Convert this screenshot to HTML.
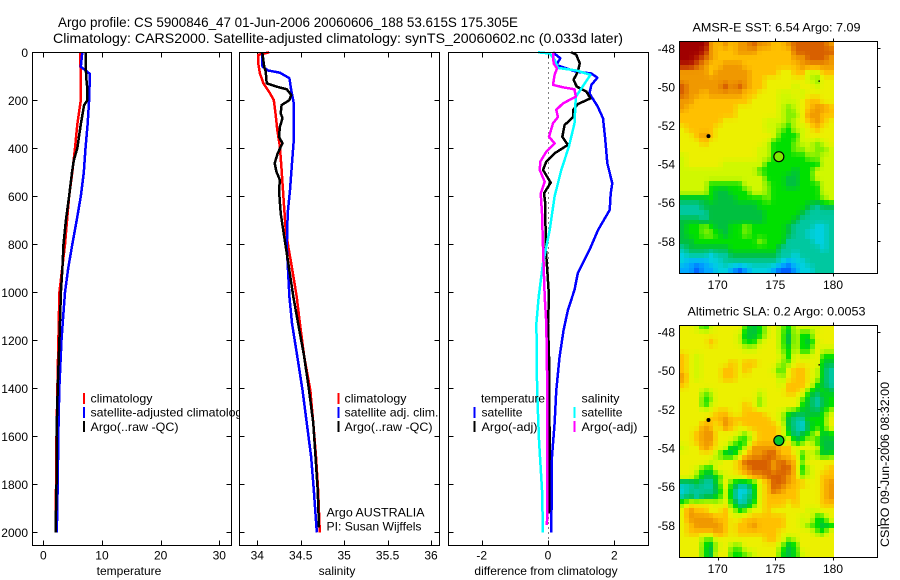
<!DOCTYPE html>
<html lang="en">
<head>
<meta charset="utf-8">
<title>Argo profile CS 5900846_47</title>
<style>
html,body{margin:0;padding:0;background:#fff;width:900px;height:580px;overflow:hidden}
svg{display:block}
text{font-family:"Liberation Sans",sans-serif;font-size:12px;fill:#000}
.title{font-size:14px}
</style>
</head>
<body>
<svg id="chart" xmlns="http://www.w3.org/2000/svg" width="900" height="580" viewBox="0 0 900 580">
  <rect x="0" y="0" width="900" height="580" fill="#fff"/>
  <text class="title" x="58" y="27" textLength="460" lengthAdjust="spacingAndGlyphs">Argo profile: CS 5900846_47 01-Jun-2006 20060606_188 53.615S 175.305E</text>
  <text class="title" x="53" y="43" textLength="570" lengthAdjust="spacingAndGlyphs">Climatology: CARS2000. Satellite-adjusted climatology: synTS_20060602.nc (0.033d later)</text>

  <g id="panel-t"></g>
  <g>
    <rect x="83" y="393" width="2" height="11" fill="#f00"/>
    <rect x="83" y="407" width="2" height="11" fill="#00f"/>
    <rect x="83" y="421" width="2" height="11" fill="#000"/>
    <text x="90.5" y="402.5" textLength="62" lengthAdjust="spacingAndGlyphs">climatology</text>
    <text x="90.5" y="416.5" textLength="158" lengthAdjust="spacingAndGlyphs">satellite-adjusted climatology</text>
    <text x="90.5" y="431" textLength="88" lengthAdjust="spacingAndGlyphs">Argo(..raw -QC)</text>
  </g>

  <g id="panel-s"></g>
  <g>
    <rect x="337.5" y="393" width="2" height="11" fill="#f00"/>
    <rect x="337.5" y="407" width="2" height="11" fill="#00f"/>
    <rect x="337.5" y="421" width="2" height="11" fill="#000"/>
    <text x="344.5" y="402.5" textLength="62" lengthAdjust="spacingAndGlyphs">climatology</text>
    <text x="344.5" y="416.5" textLength="94" lengthAdjust="spacingAndGlyphs">satellite adj. clim.</text>
    <text x="344.5" y="431" textLength="88" lengthAdjust="spacingAndGlyphs">Argo(..raw -QC)</text>
    <text x="326.5" y="516.5" textLength="98" lengthAdjust="spacingAndGlyphs">Argo AUSTRALIA</text>
    <text x="326.5" y="530.5" textLength="95" lengthAdjust="spacingAndGlyphs">PI: Susan Wijffels</text>
  </g>

  <g id="panel-d"></g>
  <g>
    <text x="481" y="402.5" textLength="64" lengthAdjust="spacingAndGlyphs">temperature</text>
    <rect x="473.5" y="407" width="2" height="11" fill="#00f"/>
    <rect x="473.5" y="421" width="2" height="11" fill="#000"/>
    <text x="481.5" y="416.5" textLength="41" lengthAdjust="spacingAndGlyphs">satellite</text>
    <text x="481.5" y="431" textLength="56" lengthAdjust="spacingAndGlyphs">Argo(-adj)</text>
    <text x="581.5" y="402.5" textLength="38" lengthAdjust="spacingAndGlyphs">salinity</text>
    <rect x="573.5" y="407" width="2" height="11" fill="#0ff"/>
    <rect x="573.5" y="421" width="2" height="11" fill="#f0f"/>
    <text x="581.5" y="416.5" textLength="41" lengthAdjust="spacingAndGlyphs">satellite</text>
    <text x="581.5" y="431" textLength="56" lengthAdjust="spacingAndGlyphs">Argo(-adj)</text>
  </g>

  <g id="map-sst"></g>
  <g id="map-sla"></g>

  <text x="692.5" y="31.5" textLength="168" lengthAdjust="spacingAndGlyphs">AMSR-E SST: 6.54 Argo: 7.09</text>
  <text x="687.5" y="315.5" textLength="178" lengthAdjust="spacingAndGlyphs">Altimetric SLA: 0.2 Argo: 0.0053</text>
  <text transform="translate(889 547) rotate(-90)" x="0" y="0" textLength="165" lengthAdjust="spacingAndGlyphs">CSIRO 09-Jun-2006 08:32:00</text>
</svg>

<script>
// ---------- axis tick labels ----------
const depthTicks = [0,200,400,600,800,1000,1200,1400,1600,1800,2000];
const tempTicks = [0,10,20,30];
const salTicks = [34,34.5,35,35.5,36];
const diffTicks = [-2,0,2];
const lonTicks = [170,175,180];
const latTicks = [-48,-50,-52,-54,-56,-58];

// ---------- temperature panel ----------
const tClimDepth = [0,100,200,300,400,500,600,800,1000,1400,1600,2000];
const tClimValue = [6.25,6.4,6.4,5.8,5.4,4.95,4.4,3.7,2.75,2.4,2.25,2.1];
const tSatDepth = [0,60,90,200,300,400,500,600,700,800,900,1000,1100,1200,1400,1600,1800,2000];
const tSatValue = [6.65,6.4,7.95,7.8,7.55,7.2,6.9,6.4,5.7,4.95,4.25,3.7,3.4,3.1,2.73,2.55,2.45,2.3];
const tArgoDepth = [0,100,150,200,220,300,400,450,500,600,700,800,900,1000,1200,1400,1600,1800,2000];
const tArgoValue = [7.2,7.3,7.5,7.5,6.95,6.4,5.8,5.2,4.9,4.4,3.85,3.45,3.25,3,2.75,2.45,2.25,2.25,2.1];

// ---------- salinity panel ----------
const sClimDepth = [0,11,46,88,129,171,199,254,324,393,490,601,740,810,879,1018,1129,1268,1407,1546,1684,1823,2000];
const sClimValue = [34.138,34.01,34.01,34.03,34.07,34.146,34.19,34.21,34.23,34.26,34.28,34.30,34.327,34.357,34.39,34.454,34.49,34.54,34.61,34.645,34.676,34.70,34.72];
const sSatDepth = [0,60,76,85,108,157,213,365,462,574,671,810,1018,1129,1268,1407,1546,1684,1823,2000];
const sSatValue = [34.058,34.06,34.127,34.26,34.37,34.39,34.42,34.42,34.40,34.377,34.35,34.34,34.37,34.40,34.46,34.52,34.57,34.62,34.65,34.685];
const sArgoDepth = [0,60,80,129,143,154,178,199,220,254,275,310,352,379,421,462,497,532,574,671,768,879,1018,1129,1268,1407,1546,1684,1823,1980];
const sArgoValue = [34.058,34.08,34.097,34.108,34.22,34.34,34.39,34.37,34.28,34.27,34.29,34.26,34.25,34.29,34.235,34.20,34.22,34.26,34.25,34.27,34.31,34.357,34.415,34.47,34.54,34.595,34.645,34.67,34.695,34.71];

// ---------- difference panel ----------
const dTSatDepth = [0,25,53,81,88,106,136,171,226,275,365,462,546,588,657,740,824,921,990,1074,1157,1268,1407,1546,1684,2000];
const dTSatValue = [0.15,0.37,0.25,0.85,1.3,1.49,1.31,1.25,1.5,1.66,1.73,1.79,1.94,1.89,1.86,1.51,1.25,0.9,0.8,0.6,0.47,0.35,0.25,0.2,0.12,0.1];
const dTArgoDepth = [0,10,46,81,115,143,164,192,216,240,270,303,352,386,421,455,490,543,588,630,810,1018,1129,1268,1407,1616,1921];
const dTArgoValue = [0.7,0.85,0.96,0.9,0.77,0.87,1.16,1.28,0.9,0.76,0.76,0.5,0.43,0.6,0.2,-0.05,-0.15,0.08,-0.12,-0.08,-0.07,0.03,0,0.03,0.03,0.05,0.03];
const dSSatDepth = [0,5,30,65,76,94,129,185,296,393,490,601,740,879,1018,1129,1407,1616,1823,2000];
const dSSatValue = [-0.3,0.05,0.2,0.3,0.86,1.28,1.11,0.84,0.8,0.63,0.4,0.2,0.05,-0.15,-0.28,-0.35,-0.33,-0.27,-0.18,-0.15];
const dSArgoDepth = [0,46,67,94,136,146,154,185,213,240,270,296,352,379,414,455,490,539,588,671,810,1018,1129,1407,1970];
const dSArgoValue = [0.15,0.17,0.27,0.2,0.15,0.45,0.8,0.84,0.45,0.25,0.3,0.15,0.03,0.2,-0.05,-0.23,-0.25,-0.1,-0.22,-0.18,-0.15,-0.1,-0.05,-0.02,-0.03];

// ---------- map colour levels, one row per latitude band, one value per longitude band ----------
const sstGrid = [
[13,13,13,13,10,9,10,9,10,10,11,10,10,9,9,10,11,11,11,11,11,10],
[13,13,13,12,10,9,9,9,10,10,10,9,9,9,9,9,11,11,11,11,11,11],
[13,13,12,11,10,9,9,9,9,9,9,9,9,9,9,9,10,10,11,11,11,10],
[12,12,11,10,9,9,10,10,10,9,9,9,9,9,9,9,9,10,10,10,10,10],
[10,10,10,10,9,10,10,10,10,10,9,9,9,9,8,8,9,9,7,7,9,9],
[10,10,10,10,10,10,10,10,10,10,9,9,8,8,8,8,8,8,7,6,8,8],
[11,10,10,10,10,10,11,10,11,10,9,9,8,8,8,8,7,8,8,7,8,8],
[11,10,10,9,10,10,10,10,10,9,9,8,8,8,7,7,8,7,8,8,8,8],
[10,10,9,9,9,9,9,9,9,9,8,8,8,8,7,7,7,8,9,9,8,8],
[10,9,9,9,9,9,9,9,8,8,8,8,8,8,7,6,7,8,9,10,10,9],
[9,9,9,9,9,9,9,9,8,8,8,8,8,8,7,6,6,8,10,10,9,9],
[9,9,9,9,9,9,8,8,8,8,8,8,7,7,7,6,7,8,9,10,9,8],
[8,9,9,9,9,8,8,8,8,8,8,8,7,7,6,5,7,7,8,9,8,8],
[8,8,9,10,9,8,8,8,8,8,8,8,8,7,5,5,5,7,8,8,8,8],
[8,8,8,9,8,8,8,8,8,8,8,8,7,5,5,5,6,7,7,6,7,8],
[8,8,8,8,8,8,8,8,8,8,8,7,7,5,5,5,6,6,7,6,6,7],
[7,8,8,8,8,8,8,8,8,8,8,7,7,5,5,5,5,5,6,6,7,7],
[7,8,8,8,8,8,7,7,7,7,7,7,5,5,5,5,5,5,5,5,7,7],
[7,7,7,7,7,7,7,7,7,7,7,5,5,5,5,5,4,5,5,7,7,7],
[7,7,7,7,7,7,7,7,7,7,7,7,5,5,5,4,4,5,5,7,7,7],
[7,7,7,7,5,5,5,5,5,7,7,7,6,5,5,4,4,5,5,5,7,7],
[7,7,7,7,5,4,4,5,5,5,7,7,6,5,5,5,5,5,5,5,7,7],
[4,4,4,4,5,4,4,4,5,5,5,5,6,5,5,5,5,5,5,5,6,7],
[3,3,3,4,4,4,4,4,4,4,4,5,5,5,5,5,5,5,4,3,4,4],
[3,3,3,3,4,4,4,4,4,4,4,4,5,5,5,5,5,4,3,3,3,3],
[4,4,4,3,4,4,4,4,4,4,4,4,5,5,5,5,4,3,3,3,3,3],
[4,5,5,6,5,4,4,5,5,6,5,5,5,5,5,4,3,3,3,2,2,3],
[4,5,5,6,6,5,4,5,5,6,5,5,5,5,5,4,3,3,2,2,2,3],
[4,4,5,5,5,5,5,5,5,5,5,6,5,5,5,3,3,3,3,2,2,3],
[3,4,4,4,4,4,4,5,5,5,5,5,5,5,3,3,3,3,3,3,2,3],
[2,3,3,3,2,3,3,4,4,4,4,4,4,4,3,3,2,3,3,3,3,3],
[2,1,1,1,2,2,3,3,3,3,3,3,3,3,2,1,2,2,3,3,3,3],
[1,1,0,1,1,2,2,1,0,1,2,2,2,1,0,0,1,2,2,3,3,3]
];
const slaGrid = [
[8,8,7,5,7,8,8,8,8,5,4,5,7,8,6,5,7,7,7,7,8,8],
[8,8,8,8,8,8,8,8,7,4,4,5,7,8,6,4,7,5,5,8,8,8],
[8,8,8,8,9,8,8,8,7,5,5,7,8,8,6,4,7,5,4,7,8,8],
[8,8,8,8,8,8,8,8,8,7,7,8,8,8,6,5,7,5,5,8,7,7],
[9,8,7,8,8,8,8,8,8,8,8,8,8,8,7,5,8,7,7,8,5,5],
[9,8,7,8,8,8,8,9,8,9,9,8,8,8,6,6,8,8,8,8,4,4],
[9,8,7,8,8,8,9,9,8,9,8,8,8,7,5,8,9,9,8,7,4,3],
[10,8,7,8,8,8,9,9,8,8,8,8,8,8,6,8,9,9,8,7,4,3],
[9,8,8,8,8,8,8,8,8,8,8,8,8,8,7,9,9,9,8,5,4,3],
[8,8,8,6,7,8,8,8,8,8,8,7,8,8,8,9,9,8,5,4,5,4],
[8,8,8,5,6,8,8,8,8,8,8,6,8,8,8,8,8,6,4,3,4,5],
[8,8,8,5,7,8,8,8,8,9,8,6,8,8,8,8,8,5,4,3,4,5],
[8,8,8,8,8,9,9,8,8,9,9,9,8,8,7,5,4,4,4,4,5,7],
[8,8,8,8,9,9,10,9,9,9,9,9,9,8,7,4,3,3,5,5,5,8],
[8,8,8,10,9,8,10,9,8,9,9,9,9,9,8,4,3,2,4,5,5,8],
[8,8,9,10,10,8,8,8,7,6,8,9,9,9,8,5,3,4,5,7,4,5],
[8,8,9,10,10,8,8,7,5,5,8,9,9,9,5,8,4,5,7,5,4,4],
[7,8,8,10,9,8,7,4,5,7,10,10,10,10,9,9,7,8,8,7,4,4],
[8,8,8,8,8,6,4,4,7,9,10,10,11,11,9,9,8,5,7,6,4,5],
[8,8,8,8,7,7,8,8,9,11,11,11,11,10,11,10,9,6,8,8,8,8],
[8,8,7,5,5,8,8,8,9,10,11,11,11,10,11,11,9,5,7,8,8,9],
[8,8,6,4,4,5,7,8,8,9,10,10,11,11,11,10,9,6,7,8,9,9],
[3,3,4,3,3,5,8,5,4,4,5,8,9,11,11,10,9,9,8,8,9,10],
[2,3,3,3,3,4,7,4,2,2,4,8,9,11,10,9,9,8,8,8,9,10],
[3,4,3,4,4,5,7,4,2,3,4,8,9,9,9,9,9,8,8,8,9,10],
[6,8,8,8,8,7,8,5,3,3,5,8,9,9,9,8,9,8,8,8,9,9],
[8,10,9,9,8,8,9,7,5,6,8,8,9,8,8,8,8,8,7,7,8,8],
[8,10,10,10,10,9,9,8,8,9,9,9,9,9,9,8,8,7,8,5,5,8],
[8,9,10,10,10,10,9,8,9,9,10,9,9,9,9,8,8,7,6,5,4,5],
[8,9,9,9,9,10,9,8,9,9,9,9,9,9,8,8,8,8,8,6,5,8],
[8,8,8,6,6,8,8,8,8,8,8,8,9,9,8,6,7,8,8,8,8,8],
[8,8,8,5,4,7,8,6,6,8,8,8,8,8,6,4,5,8,8,8,8,8],
[8,8,8,5,4,8,8,5,5,6,7,8,8,8,5,4,5,7,8,8,8,8]
];
const gridLonStart = 166.7;
const gridLonEnd = 180.1;
const gridLatStart = -47.62;
const gridLatEnd = -59.63;
const profileLon = 175.305;
const profileLat = -53.615;
const otherProfileLon = [169.2, 178.8];
const otherProfileLat = [-52.55, -49.7];

// ---------- drawing ----------
const SVGNS = 'http://www.w3.org/2000/svg';
const palette = [[0,96,255],[0,168,255],[0,208,224],[0,200,160],[0,192,64],[0,224,0],[128,240,0],[208,248,0],[236,240,0],[255,192,0],[240,152,0],[216,96,0],[184,32,0],[160,0,0]];
const PANEL_TOP = 52.5, PANEL_BOTTOM = 545.5;
const DISPLAY_COLS = 32, DISPLAY_ROWS = 48;

function depthY(d){ return 52.3 + d * 0.24; }
function makeScale(v0, px0, v1, px1){ return v => px0 + (v - v0) * (px1 - px0) / (v1 - v0); }

const tempX = makeScale(0, 43.3, 30, 219.3);
const salX = makeScale(34, 257.3, 36, 431);
const diffX = makeScale(-2, 481.7, 2, 614.3);

function node(parent, tag, attrs, txt){
  const el = document.createElementNS(SVGNS, tag);
  for (const k in attrs) el.setAttribute(k, attrs[k]);
  if (txt !== undefined) el.textContent = txt;
  parent.appendChild(el);
  return el;
}

function drawPanel(id, left, right, xScale, xTicks, xLabel, xLabelCenter, showDepthLabels){
  const g = document.getElementById(id);
  const bg = node(g, 'rect', {x:left, y:PANEL_TOP, width:right-left, height:PANEL_BOTTOM-PANEL_TOP, fill:'#fff'});
  
  
  xTicks.forEach(v => {
    const x = Math.round(xScale(v)) + 0.5;
    const top = node(g, 'path', {d:`M${x} ${PANEL_TOP}V${PANEL_TOP+5}M${x} ${PANEL_BOTTOM}V${PANEL_BOTTOM-5}`, stroke:'#000', 'stroke-width':1, fill:'none', 'shape-rendering':'crispEdges'});
    
    
    const lab = node(g, 'text', {x:xScale(v), y:559.5, 'text-anchor':'middle'}, String(v));
    
    
  });
  depthTicks.forEach(d => {
    const y = Math.round(depthY(d)) + 0.5;
    const t = node(g, 'path', {d:`M${left} ${y}H${left+5}M${right} ${y}H${right-5}`, stroke:'#000', 'stroke-width':1, fill:'none', 'shape-rendering':'crispEdges'});
    
    
    if (showDepthLabels){
      const lab = node(g, 'text', {x:28, y:depthY(d)+4.5, 'text-anchor':'end'}, String(d));
      
      
    }
  });
  const xl = node(g, 'text', {x:xLabelCenter, y:575, 'text-anchor':'middle'}, xLabel);
  
  
  return g;
}

function drawFrame(g, left, right){
  const f = node(g, 'rect', {x:left, y:PANEL_TOP, width:right-left, height:PANEL_BOTTOM-PANEL_TOP, fill:'none', stroke:'#000', 'stroke-width':1, 'shape-rendering':'crispEdges'});
  
  
}

function drawLine(g, depths, values, xScale, colour, name){
  const pts = depths.map((d, i) => xScale(values[i]).toFixed(1) + ',' + depthY(d).toFixed(1)).join(' ');
  const line = node(g, 'polyline', {points:pts, fill:'none', stroke:colour, 'stroke-width':2.5, 'stroke-linejoin':'round', 'shape-rendering':'crispEdges'});
  
  
}

const gT = drawPanel('panel-t', 32.5, 231.5, tempX, tempTicks, 'temperature', 129, true);
drawLine(gT, tClimDepth, tClimValue, tempX, '#f00', 'temperature-climatology-line');
drawLine(gT, tSatDepth, tSatValue, tempX, '#00f', 'temperature-satellite-line');
drawLine(gT, tArgoDepth, tArgoValue, tempX, '#000', 'temperature-argo-line');
drawFrame(gT, 32.5, 231.5);

const gS = drawPanel('panel-s', 239.5, 439.5, salX, salTicks, 'salinity', 337, false);
drawLine(gS, sClimDepth, sClimValue, salX, '#f00', 'salinity-climatology-line');
drawLine(gS, sSatDepth, sSatValue, salX, '#00f', 'salinity-satellite-line');
drawLine(gS, sArgoDepth, sArgoValue, salX, '#000', 'salinity-argo-line');
drawFrame(gS, 239.5, 439.5);

const gD = drawPanel('panel-d', 448.5, 648.5, diffX, diffTicks, 'difference from climatology', 546, false);
const zero = node(gD, 'line', {x1:Math.round(diffX(0))+0.5, x2:Math.round(diffX(0))+0.5, y1:PANEL_TOP, y2:PANEL_BOTTOM, stroke:'#000', 'stroke-width':1, 'stroke-dasharray':'1 4', 'shape-rendering':'crispEdges'});


drawLine(gD, dTSatDepth, dTSatValue, diffX, '#00f', 'temperature-satellite-difference-line');
drawLine(gD, dTArgoDepth, dTArgoValue, diffX, '#000', 'temperature-argo-difference-line');
drawLine(gD, dSSatDepth, dSSatValue, diffX, '#0ff', 'salinity-satellite-difference-line');
drawLine(gD, dSArgoDepth, dSArgoValue, diffX, '#f0f', 'salinity-argo-difference-line');
drawFrame(gD, 448.5, 648.5);

function sampleGrid(grid, fr, fc){
  const nR = grid.length, nC = grid[0].length;
  const r = Math.max(0, Math.min(nR - 1, fr));
  const c = Math.max(0, Math.min(nC - 1, fc));
  const r0 = Math.floor(r), c0 = Math.floor(c);
  const r1 = Math.min(nR - 1, r0 + 1), c1 = Math.min(nC - 1, c0 + 1);
  const tr = r - r0, tc = c - c0;
  const top = grid[r0][c0] * (1 - tc) + grid[r0][c1] * tc;
  const bot = grid[r1][c0] * (1 - tc) + grid[r1][c1] * tc;
  return top * (1 - tr) + bot * tr;
}

function levelColour(level){
  const l = Math.max(0, Math.min(palette.length - 1, level));
  const i = Math.min(palette.length - 2, Math.floor(l));
  const t = l - i;
  const a = palette[i], b = palette[i + 1];
  return 'rgb(' + a.map((v, k) => Math.round(v + (b[k] - v) * t)).join(',') + ')';
}

function drawMap(id, grid, top, bottom, lat48Y, lat58Y, markerFill, labelY){
  const g = document.getElementById(id);
  const left = 679.5, right = 877.5;
  const lonX = makeScale(170, 717.7, 180, 833);
  const latY = makeScale(-48, lat48Y, -58, lat58Y);
  const nRows = grid.length, nCols = grid[0].length;
  const lonStep = (gridLonEnd - gridLonStart) / DISPLAY_COLS;
  const latStep = (gridLatEnd - gridLatStart) / DISPLAY_ROWS;
  for (let r = 0; r < DISPLAY_ROWS; r++){
    for (let c = 0; c < DISPLAY_COLS; c++){
      const x0 = Math.round(lonX(gridLonStart + c * lonStep));
      const x1 = Math.round(lonX(gridLonStart + (c + 1) * lonStep));
      const y0 = Math.round(latY(gridLatStart + r * latStep));
      const y1 = Math.round(latY(gridLatStart + (r + 1) * latStep));
      const fr = (r + 0.5) / DISPLAY_ROWS * nRows - 0.5;
      const fc = (c + 0.5) / DISPLAY_COLS * nCols - 0.5;
      const cell = node(g, 'rect', {x:x0, y:y0, width:x1-x0, height:y1-y0, fill:levelColour(sampleGrid(grid, fr, fc)), 'shape-rendering':'crispEdges'});
      
      
    }
  }
  lonTicks.forEach(v => {
    const x = Math.round(lonX(v)) + 0.5;
    const t = node(g, 'path', {d:`M${x} ${top}V${top-3}M${x} ${bottom}V${bottom+3}`, stroke:'#000', 'stroke-width':1, fill:'none', 'shape-rendering':'crispEdges'});
    
    
    const lab = node(g, 'text', {x:lonX(v), y:labelY, 'text-anchor':'middle'}, String(v));
    
    
  });
  latTicks.forEach(v => {
    const y = Math.round(latY(v)) + 0.5;
    const t = node(g, 'path', {d:`M${right} ${y}H${right+3}`, stroke:'#000', 'stroke-width':1, fill:'none', 'shape-rendering':'crispEdges'});
    
    
    const lab = node(g, 'text', {x:675, y:latY(v)+4.5, 'text-anchor':'end'}, String(v));
    
    
  });
  const frame = node(g, 'rect', {x:left, y:top, width:right-left, height:bottom-top, fill:'none', stroke:'#000', 'stroke-width':1, 'shape-rendering':'crispEdges'});
  
  
  otherProfileLon.forEach((lon, i) => {
    const r = i === 0 ? 2 : 0.8;
    const dot = node(g, 'circle', {cx:lonX(lon), cy:latY(otherProfileLat[i]), r:r, fill:'#000'});
    
    
  });
  const marker = node(g, 'circle', {cx:lonX(profileLon), cy:latY(profileLat), r:5, fill:markerFill, stroke:'#000', 'stroke-width':1.2});
  
  
}

drawMap('map-sst', sstGrid, 41.5, 273.5, 48.3, 241.3, '#80e800', 289);
drawMap('map-sla', slaGrid, 325.5, 557.5, 332, 525.3, '#00c830', 573);
</script>
</body>
</html>
